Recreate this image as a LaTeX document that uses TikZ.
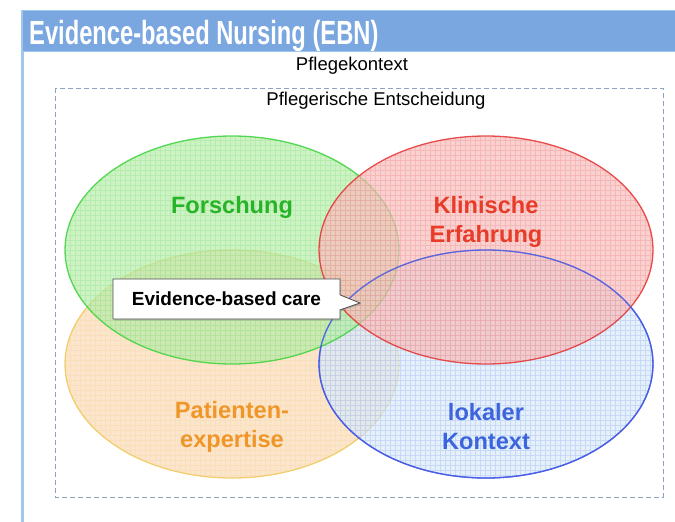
\documentclass[tikz,border=0pt]{standalone}
\usepackage{fontspec}
\setmainfont{Liberation Sans}
\usetikzlibrary{positioning,shapes.callouts,shadows}
\definecolor{ebnbar}{RGB}{122,167,224}
\definecolor{ebnedge}{RGB}{160,200,238}
\definecolor{dashgray}{RGB}{140,165,190}
\definecolor{lgreen}{RGB}{60,210,60}
\definecolor{lred}{RGB}{228,50,50}
\definecolor{lorange}{RGB}{240,200,90}
\definecolor{lblue}{RGB}{70,90,230}
\definecolor{fgreen}{RGB}{184,236,169}
\definecolor{fred}{RGB}{248,189,189}
\definecolor{forange}{RGB}{251,218,184}
\definecolor{fblue}{RGB}{216,235,250}
\definecolor{tgreen}{RGB}{40,180,40}
\definecolor{tred}{RGB}{230,60,40}
\definecolor{torange}{RGB}{240,150,40}
\definecolor{tblue}{RGB}{60,100,220}
\tikzset{vennfill/.style={fill=#1, fill opacity=0.7}}
\tikzset{venngrid/.style={draw=#1, opacity=0.16, line width=0.4pt}}
\tikzset{vennline/.style={draw=#1, line width=1.3pt, opacity=0.85}}
\tikzset{vlabel/.style={font=\bfseries\fontsize{23.6}{29}\selectfont, text=#1, align=center, inner sep=0pt}}
\tikzset{plain/.style={font=\fontsize{18.5}{22}\selectfont, inner sep=0pt}}
\tikzset{ebcbox/.style={rectangle callout, draw=black!70, line width=0.8pt, fill=white, minimum width=227pt, minimum height=40pt,
    inner sep=0pt, callout pointer width=15pt, font=\bfseries\fontsize{19}{22}\selectfont,
    drop shadow={shadow xshift=1pt, shadow yshift=-1.5pt, opacity=0.35}}}

\begin{document}
\begin{tikzpicture}[x=1pt, y=-1pt]
    \useasboundingbox (0,0) rectangle (675,522);
    % frame and title bar
    \draw[ebnedge, line width=3pt] (22,10) -- (22,522);
    \fill[ebnbar, draw=ebnedge] (22,10) rectangle (675,51);
    \node[anchor=base west, text=white, inner sep=0pt, font=\bfseries\fontsize{33.5}{36}\selectfont]
        (title) at (29,45) {\scalebox{0.708}[1]{Evidence-based Nursing (EBN)}};
    \node[plain] (ctx) at (352,66) {Pflegekontext};
    \draw[dashgray, dash pattern=on 5pt off 3pt] (55,88) rectangle (663,497);
    \node[plain] (dec) at (376,101) {Pflegerische Entscheidung};
    % venn ellipses
    \foreach \cx/\cy/\col in {232/364/orange, 486/364/blue, 232/250/green, 486/250/red}{
        \fill[vennfill=f\col] (\cx,\cy) ellipse [x radius=167pt, y radius=114pt];
        \begin{scope}
            \clip (\cx,\cy) ellipse [x radius=167pt, y radius=114pt];
            \draw[venngrid=l\col, step=5pt] (\cx-170,\cy-120) grid (\cx+170,\cy+120);
        \end{scope}
        \draw[vennline=l\col] (\cx,\cy) ellipse [x radius=167pt, y radius=114pt];
    }
    \draw[vennline=lblue] (486,364) ellipse [x radius=167pt, y radius=114pt];
    \node[vlabel=tgreen] (fo) at (232,207) {Forschung};
    \node[vlabel=tred] (ke) at (486,222) {Klinische\\Erfahrung};
    \node[vlabel=torange] (pe) at (232,427) {Patienten-\\expertise};
    \node[vlabel=tblue] (lk) at (486,427) {lokaler\\Kontext};
    % callout
    \node[ebcbox, callout absolute pointer={(360,303)}] (ebc) at (226.5,299) {Evidence-based care};
\end{tikzpicture}
\end{document}
